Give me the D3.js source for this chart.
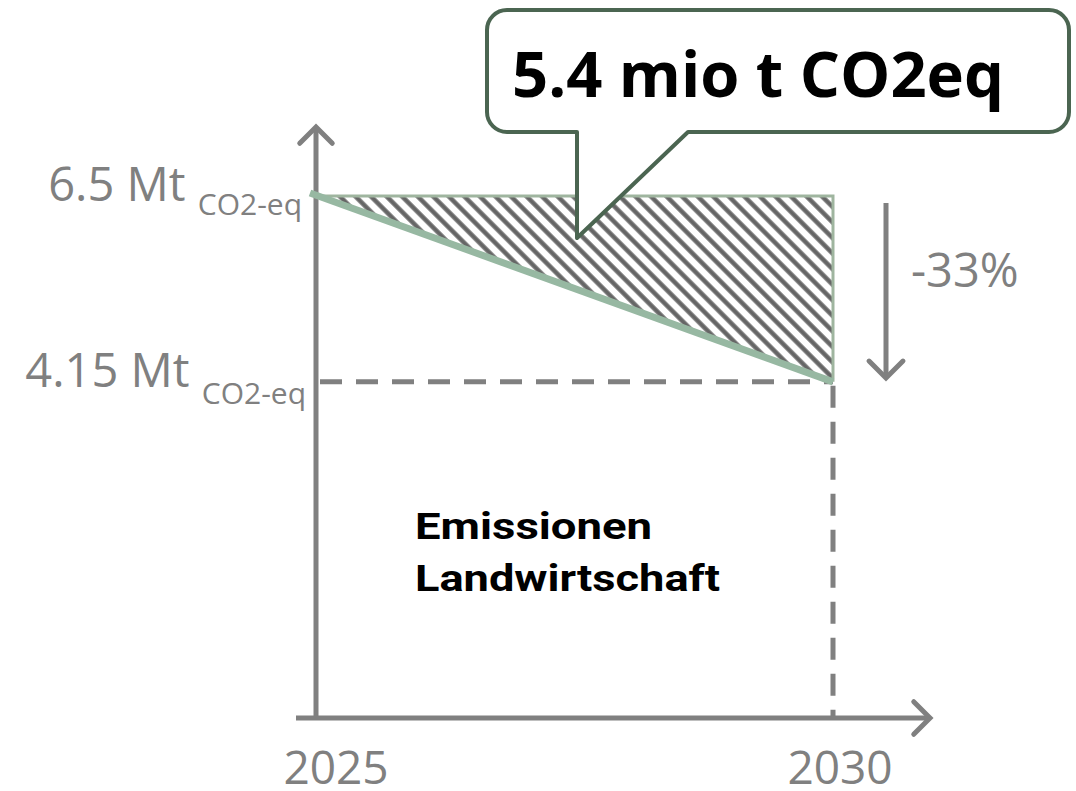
<!DOCTYPE html>
<html>
<head>
<meta charset="utf-8">
<script src="https://cdn.jsdelivr.net/npm/d3@7"></script>
<style>
  body { margin: 0; background: #fff; }
  svg { display: block; }
</style>
</head>
<body>
<div id="chart"></div>
<script>
// data
var years = [2025, 2030];
var emissions = [6.5, 4.15];          // Mt CO2-eq
var levelLabels = ["6.5 Mt", "4.15 Mt"];
var levelSubs = ["CO2-eq", "CO2-eq"];
var reductionLabel = "-33%";
var calloutLabel = "5.4 mio t CO2eq";
var areaLabel = ["Emissionen", "Landwirtschaft"];

var width = 1076, height = 791;
var grey = "#808080", lineGreen = "#97b8a2", darkGreen = "#4b6551";

var svg = d3.select("#chart").append("svg")
    .attr("width", width)
    .attr("height", height);

var x = d3.scaleLinear().domain([2025, 2030]).range([316, 833]);
var y = d3.scaleLinear().domain([-0.1, 6.5]).range([718, 196]);

// hatch pattern
var defs = svg.append("defs");
var pat = defs.append("pattern")
    .attr("id", "hatch")
    .attr("patternUnits", "userSpaceOnUse")
    .attr("width", 11).attr("height", 11)
    .attr("patternTransform", "rotate(-45)");
pat.append("line")
    .attr("x1", 2.5).attr("y1", 0).attr("x2", 2.5).attr("y2", 11)
    .attr("stroke", "#666").attr("stroke-width", 4.5);

var pts = years.map(function (yr, i) { return [x(yr), y(emissions[i])]; });
var gap = [[x(years[0]), y(emissions[0])], [x(years[1]), y(emissions[0])], [x(years[1]), y(emissions[1])]];

// hatched gap between constant level and target path
svg.append("path")
    .attr("d", d3.line()(gap) + "Z")
    .attr("fill", "url(#hatch)")
    .attr("stroke", "none");
svg.append("path")
    .attr("d", d3.line()(gap))
    .attr("fill", "none")
    .attr("stroke", "#9fb59f")
    .attr("stroke-width", 3);

// dashed guide lines
svg.append("line")
    .attr("x1", x(years[0]) + 4).attr("x2", x(years[1]))
    .attr("y1", y(emissions[1])).attr("y2", y(emissions[1]))
    .attr("stroke", grey).attr("stroke-width", 5)
    .attr("stroke-dasharray", "22,14");
svg.append("line")
    .attr("x1", x(years[1])).attr("x2", x(years[1]))
    .attr("y1", y(emissions[1]) + 4).attr("y2", y(-0.1))
    .attr("stroke", grey).attr("stroke-width", 5)
    .attr("stroke-dasharray", "22,14");

// axes with arrow heads
function arrow(x1, y1, x2, y2, head) {
    var g = svg.append("g").attr("stroke", grey).attr("stroke-width", 5)
        .attr("stroke-linecap", "round").attr("fill", "none");
    g.append("line").attr("x1", x1).attr("y1", y1).attr("x2", x2).attr("y2", y2)
        .attr("stroke-linecap", "butt");
    var a = Math.atan2(y2 - y1, x2 - x1);
    g.append("path").attr("d", d3.line()([
        [x2 - head * Math.cos(a - Math.PI / 4), y2 - head * Math.sin(a - Math.PI / 4)],
        [x2, y2],
        [x2 - head * Math.cos(a + Math.PI / 4), y2 - head * Math.sin(a + Math.PI / 4)]
    ])).attr("stroke-linejoin", "miter");
}
arrow(x(years[0]), y(-0.1) + 2, x(years[0]), 127, 23);
arrow(296, y(-0.1), 930, y(-0.1), 23);
arrow(886, 203, 886, 378, 24);

// target path
svg.append("path")
    .attr("d", d3.line()(pts.map(function (p, i) { return i === 0 ? [p[0] - 6, p[1] - 3] : p; })))
    .attr("stroke", lineGreen)
    .attr("stroke-width", 7)
    .attr("fill", "none");

// level labels
var font = "'Open Sans', 'Noto Sans', sans-serif";
emissions.forEach(function (v, i) {
    var t = svg.append("text")
        .attr("x", 302 + i * 4)
        .attr("y", y(v) + 5)
        .attr("text-anchor", "end")
        .attr("fill", grey)
        .style("font-family", font);
    t.append("tspan").attr("font-size", 47).text(levelLabels[i] + " ");
    t.append("tspan").attr("font-size", 30).attr("dy", 14 + i * 3).text(levelSubs[i]);
});

// year labels
years.forEach(function (yr) {
    svg.append("text")
        .attr("x", x(yr) + 20 - (yr === 2030 ? 13 : 0))
        .attr("y", 784)
        .attr("text-anchor", "middle")
        .attr("fill", grey)
        .attr("font-size", 46)
        .style("font-family", font)
        .text(yr);
});

svg.append("text")
    .attr("x", 911).attr("y", 287)
    .attr("fill", grey)
    .attr("font-size", 47)
    .style("font-family", font)
    .text(reductionLabel);

// area label
var areaWidths = [237, 305];
areaLabel.forEach(function (s, i) {
    svg.append("text")
        .attr("x", 415).attr("y", 539 + i * 52)
        .attr("fill", "#000")
        .attr("font-size", 36)
        .attr("font-weight", "bold")
        .attr("textLength", areaWidths[i])
        .attr("lengthAdjust", "spacingAndGlyphs")
        .style("font-family", "Roboto, 'Liberation Sans', sans-serif")
        .text(s);
});

// callout bubble
var bx0 = 487, by0 = 10, bx1 = 1069, by1 = 132, r = 20;
var tail = [[577, by1], [577, 238], [688, by1]];
var bubble = d3.path();
bubble.moveTo(bx0 + r, by0);
bubble.lineTo(bx1 - r, by0);
bubble.arcTo(bx1, by0, bx1, by0 + r, r);
bubble.lineTo(bx1, by1 - r);
bubble.arcTo(bx1, by1, bx1 - r, by1, r);
bubble.lineTo(tail[2][0], tail[2][1]);
bubble.lineTo(tail[1][0], tail[1][1]);
bubble.lineTo(tail[0][0], tail[0][1]);
bubble.lineTo(bx0 + r, by1);
bubble.arcTo(bx0, by1, bx0, by1 - r, r);
bubble.lineTo(bx0, by0 + r);
bubble.arcTo(bx0, by0, bx0 + r, by0, r);
bubble.closePath();
svg.append("path")
    .attr("d", bubble.toString())
    .attr("fill", "#fff")
    .attr("stroke", darkGreen)
    .attr("stroke-width", 4)
    .attr("stroke-linejoin", "round");

svg.append("text")
    .attr("x", 512).attr("y", 97)
    .attr("fill", "#000")
    .attr("font-size", 62)
    .attr("font-weight", "bold")
    .attr("textLength", 492)
    .attr("lengthAdjust", "spacingAndGlyphs")
    .style("font-family", "'Open Sans', 'Noto Sans', sans-serif")
    .text(calloutLabel);
</script>
</body>
</html>
